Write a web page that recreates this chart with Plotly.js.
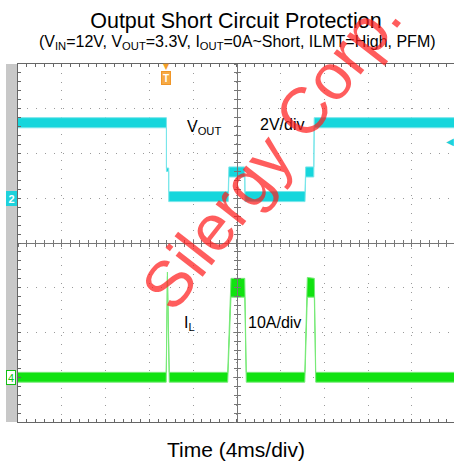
<!DOCTYPE html>
<html>
<head>
<meta charset="utf-8">
<script src="https://cdn.plot.ly/plotly-3.0.1.min.js"></script>
<style>html,body{margin:0;padding:0;background:#fff;}#chart{width:454px;height:463px;}</style>
</head>
<body>
<div id="chart"></div>
<script>
// ---- Data (time in ms, 4 ms/div; VOUT in volts, 2 V/div; IL in amps, 10 A/div) ----
const voutTime  = [0, 13.57, 13.57, 13.78, 13.78, 19.22, 19.28, 20.73, 20.75, 26.24, 26.30, 27.04, 27.08, 39.86];
const voutUpper = [3.6, 3.6, 1.35, 1.35, 0.3, 0.3, 1.4, 1.4, 0.3, 0.3, 1.4, 1.4, 3.6, 3.6];
const voutLower = [3.15, 3.15, 1.2, 1.2, -0.15, -0.15, 0.95, 0.95, -0.15, -0.15, 0.95, 0.95, 3.15, 3.15];

const ilTime  = [0, 13.55, 13.66, 13.83, 19.17, 19.47, 20.73, 20.87, 26.22, 26.45, 27.09, 27.22, 39.86];
const ilUpper = [1.1, 1.1, 23.5, 1.1, 1.1, 22.1, 22.1, 1.1, 1.1, 22.3, 22.1, 1.1, 1.1];
const ilLower = [-1.1, -1.1, 22.5, -1.1, -1.1, 17.9, 17.9, -1.1, -1.1, 17.9, 17.9, -1.1, -1.1];

const xRange = [0, 39.86];
const vRange = [-10, 6];     // 8 div x 2 V
const iRange = [-10, 70];    // 8 div x 10 A
const triggerTime = 13.57;

const FONT = 'Liberation Sans, Arial, sans-serif';
const CYAN_FILL = 'rgb(22,214,220)', CYAN_EDGE = 'rgb(120,230,234)';
const GREEN_FILL = 'rgb(16,226,16)', GREEN_EDGE = 'rgb(120,234,120)';

const traces = [
  {x: voutTime, y: voutLower, mode: 'lines', line: {color: CYAN_EDGE, width: 1}, hoverinfo: 'skip', showlegend: false, xaxis: 'x', yaxis: 'y'},
  {x: voutTime, y: voutUpper, mode: 'lines', fill: 'tonexty', fillcolor: CYAN_FILL, line: {color: CYAN_EDGE, width: 1}, hoverinfo: 'skip', showlegend: false, xaxis: 'x', yaxis: 'y'},
  {x: ilTime, y: ilLower, mode: 'lines', line: {color: GREEN_EDGE, width: 1}, hoverinfo: 'skip', showlegend: false, xaxis: 'x', yaxis: 'y2'},
  {x: ilTime, y: ilUpper, mode: 'lines', fill: 'tonexty', fillcolor: GREEN_FILL, line: {color: GREEN_EDGE, width: 1}, hoverinfo: 'skip', showlegend: false, xaxis: 'x', yaxis: 'y2'},
  // empty traces so that the centre-cross axes are drawn
  {x: [null], y: [null], xaxis: 'x2', yaxis: 'y', showlegend: false, hoverinfo: 'skip'},
  {x: [null], y: [null], xaxis: 'x3', yaxis: 'y', showlegend: false, hoverinfo: 'skip'},
  {x: [null], y: [null], xaxis: 'x', yaxis: 'y3', showlegend: false, hoverinfo: 'skip'},
  {x: [null], y: [null], xaxis: 'x', yaxis: 'y4', showlegend: false, hoverinfo: 'skip'}
];

const FRAME = '#666';
const GRID = '#9a9a9a';
const centerX = 20 / xRange[1];

function centreX(tickSide) {
  return {overlaying: 'x', anchor: 'free', position: 0.5, range: xRange, showline: true, linecolor: '#777', linewidth: 1,
    ticks: tickSide, ticklen: 3, tickcolor: '#777', tick0: 0, dtick: 0.8, showticklabels: false, showgrid: false, zeroline: false, fixedrange: true};
}
function centreY(tickSide) {
  return {overlaying: 'y', anchor: 'free', position: centerX, range: vRange, showline: true, linecolor: '#777', linewidth: 1,
    ticks: tickSide, ticklen: 3, tickcolor: '#777', tick0: -10, dtick: 0.4, showticklabels: false, showgrid: false, zeroline: false, fixedrange: true};
}
function px2x(px) { return (px - 18) / 436; }
function py2y(py) { return (422 - py) / 358; }

const layout = {
  width: 454, height: 463,
  margin: {l: 18, r: 0, t: 64, b: 41},
  paper_bgcolor: '#fff', plot_bgcolor: '#fff',
  font: {family: FONT, color: '#000'},
  title: {text: 'Output Short Circuit Protection', font: {family: FONT, size: 21.5, color: '#000'},
    x: 0.5, xref: 'paper', xanchor: 'center', y: 1 - 20 / 463, yref: 'container', yanchor: 'middle'},
  xaxis: {range: xRange, tick0: 0, dtick: 4, showgrid: true, gridcolor: GRID, griddash: '1px,7.75px', gridwidth: 1,
    showline: true, linecolor: FRAME, linewidth: 1, mirror: 'ticks', ticks: 'inside', ticklen: 3, tickcolor: FRAME,
    minor: {dtick: 0.8, ticks: 'inside', ticklen: 3, tickcolor: FRAME, showgrid: false},
    showticklabels: false, zeroline: false, fixedrange: true,
    title: {text: 'Time (4ms/div)', font: {family: FONT, size: 21, color: '#000'}, standoff: 20}, automargin: false},
  yaxis: {range: vRange, tick0: -10, dtick: 2, showgrid: true, gridcolor: GRID, griddash: '1px,7.95px', gridwidth: 1,
    showline: true, linecolor: FRAME, linewidth: 1, mirror: false, ticks: 'inside', ticklen: 3, tickcolor: FRAME,
    minor: {dtick: 0.4, ticks: 'inside', ticklen: 3, tickcolor: FRAME, showgrid: false},
    showticklabels: false, zeroline: false, fixedrange: true, automargin: false},
  yaxis2: {overlaying: 'y', range: iRange, showgrid: false, showline: false, showticklabels: false, zeroline: false, ticks: '', fixedrange: true},
  xaxis2: centreX('inside'),
  xaxis3: centreX('outside'),
  yaxis3: centreY('inside'),
  yaxis4: centreY('outside'),
  shapes: [
    {type: 'rect', xref: 'paper', yref: 'paper', x0: -12 / 436, x1: -0.5 / 436, y0: 0, y1: 1, fillcolor: '#c8c8c8', line: {width: 0}, layer: 'below'}
  ],
  annotations: [
    {text: '(V<sub>IN</sub>=12V, V<sub>OUT</sub>=3.3V, I<sub>OUT</sub>=0A~Short, ILMT=High, PFM)', xref: 'paper', yref: 'paper',
      x: px2x(237), y: py2y(43), xanchor: 'center', yanchor: 'middle', showarrow: false, font: {family: FONT, size: 16, color: '#000'}},
    {text: 'V<sub>OUT</sub>', xref: 'paper', yref: 'paper', x: px2x(204), y: py2y(127), xanchor: 'center', yanchor: 'middle', showarrow: false, font: {family: FONT, size: 16}},
    {text: '2V/div', xref: 'paper', yref: 'paper', x: px2x(281.5), y: py2y(125), xanchor: 'center', yanchor: 'middle', showarrow: false, font: {family: FONT, size: 16}},
    {text: 'I<sub>L</sub>', xref: 'paper', yref: 'paper', x: px2x(189), y: py2y(323), xanchor: 'center', yanchor: 'middle', showarrow: false, font: {family: FONT, size: 16}},
    {text: '10A/div', xref: 'paper', yref: 'paper', x: px2x(274.5), y: py2y(322), xanchor: 'center', yanchor: 'middle', showarrow: false, font: {family: FONT, size: 16}},
    // channel markers
    {text: '<b>2</b>', xref: 'paper', yref: 'y', x: px2x(11), y: 0, xanchor: 'center', yanchor: 'middle', showarrow: false, font: {family: FONT, size: 11, color: '#fff'},
      bgcolor: 'rgb(30,210,220)', bordercolor: 'rgb(30,210,220)', borderwidth: 1, borderpad: 0, width: 9, height: 13},
    {text: '4', xref: 'paper', yref: 'y2', x: px2x(11), y: 0, xanchor: 'center', yanchor: 'middle', showarrow: false, font: {family: FONT, size: 11, color: 'rgb(20,190,20)'},
      bgcolor: '#fff', bordercolor: 'rgb(20,190,20)', borderwidth: 1, borderpad: 0, width: 8, height: 13},
    // trigger marker
    {text: '▼', xref: 'x', yref: 'paper', x: triggerTime, y: py2y(67), xanchor: 'center', yanchor: 'middle', showarrow: false, font: {family: 'DejaVu Sans', size: 8, color: 'rgb(245,160,40)'}},
    {text: '<b>T</b>', xref: 'x', yref: 'paper', x: triggerTime, y: py2y(78), xanchor: 'center', yanchor: 'middle', showarrow: false, font: {family: FONT, size: 10, color: '#fff'},
      bgcolor: 'rgb(246,170,70)', bordercolor: 'rgb(240,150,40)', borderwidth: 1, borderpad: 0, width: 8, height: 12},
    // trigger level arrow (right edge)
    {text: '◀', xref: 'paper', yref: 'paper', x: px2x(450), y: py2y(141), xanchor: 'center', yanchor: 'middle', showarrow: false, font: {family: 'DejaVu Sans', size: 10, color: 'rgb(30,210,220)'}},
    // watermark
    {text: 'Silergy Corp.', xref: 'paper', yref: 'paper', x: px2x(271), y: py2y(152), xanchor: 'center', yanchor: 'middle', showarrow: false, textangle: -52,
      font: {family: FONT, size: 65, color: 'rgba(255,30,30,0.72)'}}
  ]
};

Plotly.newPlot('chart', traces, layout, {displayModeBar: false, staticPlot: true});
</script>
</body>
</html>
